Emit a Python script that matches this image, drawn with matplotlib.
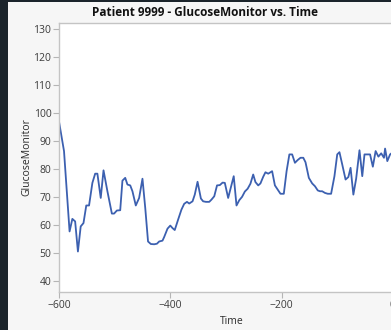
import matplotlib
matplotlib.use("Agg")
from matplotlib import pyplot as plt
from matplotlib.patches import Rectangle

# glucose monitor trace, minutes relative to the reference time
time = [-600, -591, -581, -576, -571, -566, -561, -556, -551, -546,
        -540, -535, -531, -525, -520, -513, -505, -501, -496, -490,
        -486, -481, -477, -472, -468, -462, -456, -450, -445, -440,
        -435, -429, -424, -420, -414, -411, -405, -400, -396, -392,
        -386, -380, -375, -370, -366, -360, -356, -351, -345, -341,
        -336, -330, -326, -321, -316, -311, -306, -302, -296, -286,
        -281, -276, -271, -266, -261, -256, -251, -247, -242, -238,
        -233, -229, -224, -220, -217, -212, -208, -202, -196, -191,
        -186, -181, -176, -171, -166, -161, -157, -151, -145, -140,
        -135, -131, -127, -122, -117, -111, -105, -100, -96, -91,
        -85, -80, -76, -71, -66, -60, -55, -51, -46, -41,
        -36, -31, -26, -21, -16, -14, -10, -5, 0]
glucose = [97.0, 86.4, 57.6, 62.1, 61.2, 50.4, 59.4, 60.6, 66.9, 66.9,
           75.0, 78.3, 78.3, 69.6, 79.5, 72.0, 64.0, 64.0, 65.1, 65.2,
           75.8, 76.8, 74.4, 74.1, 72.0, 66.9, 69.6, 76.5, 66.0, 54.0,
           53.1, 53.0, 53.2, 54.0, 54.3, 55.6, 58.6, 59.7, 58.8, 58.1,
           61.8, 65.4, 67.5, 68.2, 67.6, 68.4, 70.8, 75.4, 69.4, 68.4,
           68.2, 68.2, 69.0, 70.2, 74.1, 74.2, 75.1, 75.0, 69.6, 77.4,
           66.9, 68.8, 70.0, 71.9, 72.9, 74.7, 78.0, 75.3, 74.1, 74.8,
           77.2, 78.8, 78.3, 78.8, 79.2, 74.1, 72.9, 71.1, 71.1, 79.2,
           85.2, 85.2, 82.2, 83.2, 84.0, 84.0, 82.4, 76.8, 74.8, 73.8,
           72.3, 72.0, 72.0, 71.4, 71.1, 71.1, 77.4, 85.2, 86.0, 81.6,
           76.2, 77.1, 80.4, 70.8, 76.5, 86.7, 77.4, 85.2, 85.2, 85.2,
           80.8, 86.4, 84.4, 85.6, 84.0, 87.3, 82.8, 85.2, 86.0]

patient = "9999"
x_ticks = [-600, -400, -200, 0]
y_ticks = [40, 50, 60, 70, 80, 90, 100, 110, 120, 130]

plt.rcParams["font.family"] = ["Open Sans", "DejaVu Sans"]

fig = plt.figure(figsize=(3.91, 3.30), dpi=100)
fig.patch.set_facecolor("#f6f6f6")

# dark window frame along the left and top
fig.add_artist(Rectangle((0, 0), 8 / 391, 1, transform=fig.transFigure,
                         facecolor="#1b242b", edgecolor="none", zorder=10))
fig.add_artist(Rectangle((0, 1 - 2 / 330), 1, 2 / 330, transform=fig.transFigure,
                         facecolor="#1b242b", edgecolor="none", zorder=10))

# plot area runs past the right edge of the window
ax = fig.add_axes([59 / 391, 38 / 330, 345 / 391, 269.3 / 330])
ax.set_facecolor("white")
ax.plot(time, glucose, color="#3c60b0", linewidth=1.3)

ax.set_xlim(-600, 20)
ax.set_ylim(35.9, 132.4)
ax.set_xticks(x_ticks)
ax.set_yticks(y_ticks)
ax.tick_params(axis="both", direction="out", length=4, width=0.8,
               color="#b5b5b5", labelcolor="#3c3c3c", labelsize=7.5, pad=1.5)

for side in ["left", "bottom", "top", "right"]:
    ax.spines[side].set_color("#c4c4c4")
    ax.spines[side].set_linewidth(1.0)

ax.set_xlabel("Time", fontsize=7.5, color="#2b2b2b", labelpad=4)
ax.set_ylabel("GlucoseMonitor", fontsize=7.5, color="#2b2b2b", labelpad=1)

fig.text(205 / 391, 1 - 13 / 330, f"Patient {patient} - GlucoseMonitor vs. Time",
         ha="center", va="center", fontsize=8.5, fontweight="bold", color="#111111")

plt.savefig("out.png", dpi=100, facecolor=fig.get_facecolor())
